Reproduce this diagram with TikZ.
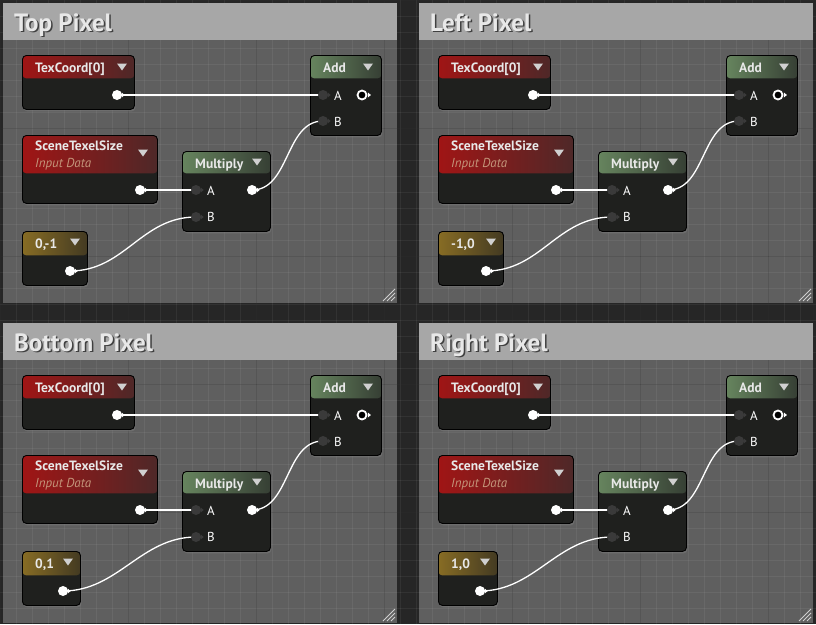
\documentclass[tikz,border=0pt]{standalone}
\usepackage{fontspec}
\setmainfont{PT Sans}
\usetikzlibrary{shadows}
\definecolor{bgdark}{HTML}{262626}
\definecolor{panelbg}{HTML}{5F5F5F}
\definecolor{titlebg}{HTML}{A7A7A7}
\definecolor{nodebg}{HTML}{1F201E}
\definecolor{redL}{HTML}{A01515}
\definecolor{redR}{HTML}{4E2828}
\definecolor{greenL}{HTML}{66845E}
\definecolor{greenR}{HTML}{363F34}
\definecolor{goldL}{HTML}{876C24}
\definecolor{goldR}{HTML}{433A22}
\definecolor{pindark}{HTML}{3A3A3A}
\definecolor{hdrtext}{HTML}{E8E8E8}
\definecolor{subtext}{HTML}{C4957A}
\definecolor{ddcol}{HTML}{D0D0D0}
\tikzset{
  uebox/.style={draw=black, line width=0.9pt, fill=nodebg, rounded corners=4pt,
    anchor=north west, inner sep=0pt,
    drop shadow={shadow xshift=1pt,shadow yshift=-2pt,opacity=0.45}},
  hdr/.style={font=\bfseries\fontsize{13.5}{15}\selectfont, text=hdrtext, anchor=base west, inner sep=0pt},
  sub/.style={font=\itshape\fontsize{13}{15}\selectfont, text=subtext, anchor=base west, inner sep=0pt},
  pinlbl/.style={font=\fontsize{13}{15}\selectfont, text=white, anchor=base west, inner sep=0pt},
  ttl/.style={font=\bfseries\fontsize{25}{29}\selectfont, text=#1, anchor=base west, inner sep=0pt},
  outpin/.style={circle, fill=white, minimum size=10pt, inner sep=0pt},
  inpin/.style={circle, fill=pindark, minimum size=10pt, inner sep=0pt},
  ringpin/.style={circle, draw=white, line width=1.8pt, fill=black, minimum size=9pt, inner sep=0pt},
  wire/.style={white, line width=1.3pt},
  minorgrid/.style={white, opacity=0.06, line width=0.8pt},
  majorgrid/.style={black, opacity=0.18, line width=1pt},
  hatch/.style={ddcol, line width=0.9pt}
}
\newcommand\uenode[8]{\node[uebox, minimum width=#4pt, minimum height=#5pt,
  path picture={\shade[left color=#7, right color=#8] ([yshift=1pt]path picture bounding box.north west) rectangle ([yshift=-#6pt]path picture bounding box.north east);}] (#1) at (#2,#3) {};}
\newcommand\dd[2]{\fill[ddcol] (#1-5,#2-3.5) -- (#1+5,#2-3.5) -- (#1,#2+3.5) -- cycle;}
\newcommand\opin[3]{\node[outpin] (#1) at (#2,#3) {};
  \fill[white] ([yshift=2.5pt,xshift=-0.5pt]#1.east) -- ++(3pt,-2.5pt) -- ++(-3pt,-2.5pt) -- cycle;}
\newcommand\ipin[3]{\node[inpin] (#1) at (#2,#3) {};
  \fill[pindark] ([yshift=2.5pt,xshift=-0.5pt]#1.east) -- ++(3pt,-2.5pt) -- ++(-3pt,-2.5pt) -- cycle;}
\newcommand\rpin[3]{\node[ringpin] (#1) at (#2,#3) {};
  \fill[white] ([yshift=2.5pt,xshift=0.5pt]#1.east) -- ++(3pt,-2.5pt) -- ++(-3pt,-2.5pt) -- cycle;}
\begin{document}
\begin{tikzpicture}[x=1pt,y=-1pt]
\useasboundingbox (0,0) rectangle (816,624);
\fill[bgdark] (0,0) rectangle (816,624);
% panel bodies
\foreach \ox/\oy in {0/0,416/0,0/320,416/320}{
  \fill[panelbg] (\ox+3,\oy+3) rectangle (\ox+397,\oy+303);
}
% grid
\foreach \gx in {0,16,...,816}{\draw[minorgrid] (\gx,0) -- (\gx,624);}
\foreach \gy in {0,16,...,624}{\draw[minorgrid] (0,\gy) -- (816,\gy);}
\foreach \gx in {0,128,...,768}{\draw[majorgrid] (\gx,0) -- (\gx,624);}
\foreach \gy in {0,128,...,512}{\draw[majorgrid] (0,\gy) -- (816,\gy);}
% panels
\foreach \ox/\oy/\title/\cv/\cw [count=\p] in
  {0/0/Top Pixel/{0,-1}/65, 416/0/Left Pixel/{-1,0}/65,
   0/320/Bottom Pixel/{0,1}/58, 416/320/Right Pixel/{1,0}/59}{
 \begin{scope}[shift={(\ox,\oy)}]
  \fill[titlebg] (3,3) rectangle (397,40);
  \node[ttl=black!75] (tts\p) at (15.5,32.5) {\title};
  \node[ttl=hdrtext] (tt\p) at (14,31) {\title};
  \draw[hatch] (383,301) -- (395,289) (387,301) -- (395,293) (391,301) -- (395,297);
  % nodes
  \uenode{tc\p}{22}{55}{112}{54}{23}{redL}{redR}
  \uenode{st\p}{22}{135}{135}{68}{38}{redL}{redR}
  \uenode{cn\p}{22}{231}{\cw}{54}{24}{goldL}{goldR}
  \uenode{mu\p}{182}{151}{88}{80}{22}{greenL}{greenR}
  \uenode{ad\p}{310}{55}{71}{80}{23}{greenL}{greenR}
  \node[hdr] (tct\p) at (35,72.5) {TexCoord[0]};
  \dd{122}{67}
  \node[hdr] (stt\p) at (35,150.5) {SceneTexelSize};
  \node[sub] (sts\p) at (35,167.5) {Input Data};
  \dd{143}{153}
  \node[hdr] (cnt\p) at (35,248) {\cv};
  \dd{22+\cw-12}{242}
  \node[hdr] (mut\p) at (195,168.5) {Multiply};
  \dd{257}{162}
  \node[hdr] (adt\p) at (323,72.5) {Add};
  \dd{368}{67}
  \node[pinlbl] (mua\p) at (207,195) {A};
  \node[pinlbl] (mub\p) at (207,221.5) {B};
  \node[pinlbl] (ada\p) at (334,100) {A};
  \node[pinlbl] (adb\p) at (334,126) {B};
  % pin anchors
  \coordinate (tco\p) at (117,95);
  \coordinate (sto\p) at (140,190);
  \coordinate (cno\p) at (22+\cw-17,271);
  \coordinate (mui\p) at (196,190);
  \coordinate (muj\p) at (196,217);
  \coordinate (muo\p) at (252,190);
  \coordinate (adi\p) at (323,95);
  \coordinate (adj\p) at (323,121);
  % wires
  \draw[wire] (tco\p) -- (adi\p);
  \draw[wire] (sto\p) -- (mui\p);
  \draw[wire] (cno\p) .. controls +(55,0) and +(-55,0) .. (muj\p);
  \draw[wire] (muo\p) .. controls +(38,0) and +(-38,0) .. (adj\p);
  % pins
  \opin{tcp\p}{117}{95}
  \opin{stp\p}{140}{190}
  \opin{cnp\p}{22+\cw-17}{271}
  \opin{mup\p}{252}{190}
  \ipin{muap\p}{196}{190}
  \ipin{mubp\p}{196}{217}
  \ipin{adap\p}{323}{95}
  \ipin{adbp\p}{323}{121}
  \rpin{adop\p}{362}{95}
 \end{scope}
}
\end{tikzpicture}
\end{document}
